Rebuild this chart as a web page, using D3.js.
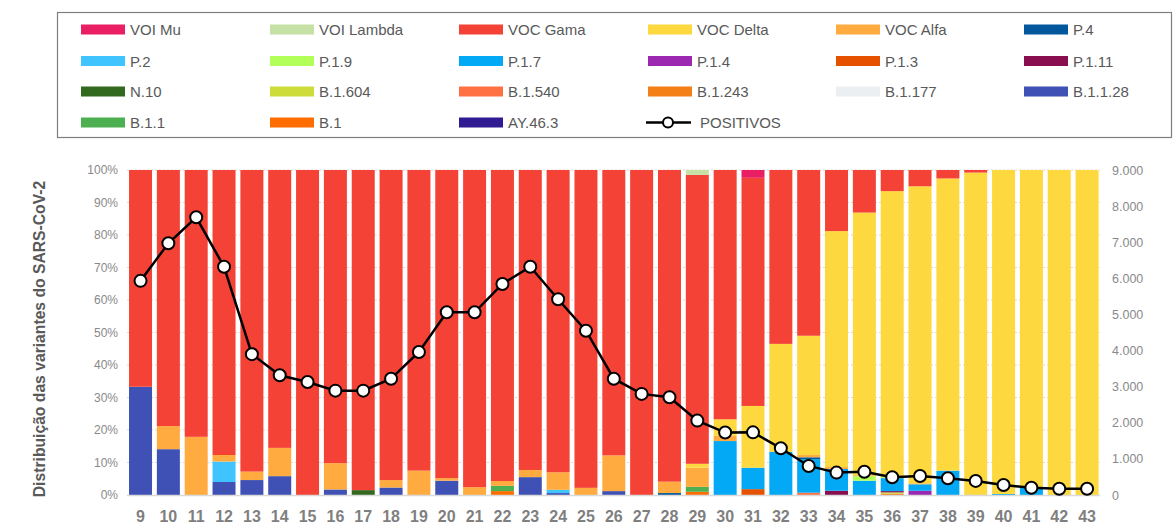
<!DOCTYPE html>
<html>
<head>
<meta charset="utf-8">
<script src="https://cdn.jsdelivr.net/npm/d3@7"></script>
<style>
  html, body { margin: 0; padding: 0; background: #fff; }
  svg { display: block; }
</style>
</head>
<body>
<svg id="chart" width="1175" height="527"></svg>
<script>
// ---------- DATA ----------
const weeks = [9,10,11,12,13,14,15,16,17,18,19,20,21,22,23,24,25,26,27,28,29,30,31,32,33,34,35,36,37,38,39,40,41,42,43];

const voiMu     = [0,0,0,0,0,0,0,0,0,0,0,0,0,0,0,0,0,0,0,0,0,0,2.4,0,0,0,0,0,0,0,0,0,0,0,0];
const voiLambda = [0,0,0,0,0,0,0,0,0,0,0,0,0,0,0,0,0,0,0,0,1.5,0,0,0,0,0,0,0,0,0,0,0,0,0,0];
const vocGama   = [66.7,78.8,82.1,87.7,92.8,85.5,100,90.2,98.5,95.4,92.5,94.8,97.6,95.7,92.3,93.0,97.8,87.8,100,95.9,88.9,76.7,70.2,53.5,51.0,18.8,13.1,6.5,5.0,2.6,0.8,0,0,0,0];
const vocDelta  = [0,0,0,0,0,0,0,0,0,0,0,0,0,0,0,0,0,0,0,0,1.2,5.1,19.0,33.2,36.7,72.6,80.8,87.7,91.4,89.9,99.2,99.7,97.6,100,100];
const vocAlfa   = [0,7.1,17.9,2.0,2.6,8.7,0,8.1,0,2.3,7.5,0.8,2.4,1.5,2.2,5.4,2.2,11.0,0,3.5,5.9,1.6,0,0,0.7,0.6,0.3,0.3,0.3,0,0,0,0,0,0];
const p4        = [0,0,0,0,0,0,0,0,0,0,0,0,0,0,0,0,0,0,0,0.6,0,0,0,0,0.6,0,0,0,0,0,0,0,0,0,0];
const p2        = [0,0,0,6.3,0,0,0,0,0,0,0,0,0,0,0,1.0,0,0,0,0,0,0,0,0,0,0,0,0,0,0,0,0,0,0,0];
const p19       = [0,0,0,0,0,0,0,0,0,0,0,0,0,0,0,0,0,0,0,0,0,0,0,0,0,0,1.4,0.3,0,0,0,0,0,0,0];
const p17       = [0,0,0,0,0,0,0,0,0,0,0,0,0,0,0,0,0,0,0,0,0,16.6,6.6,13.3,10.3,6.7,4.4,4.0,2.0,7.5,0,0.3,2.4,0,0];
const p14       = [0,0,0,0,0,0,0,0,0,0,0,0,0,0,0,0,0,0,0,0,0,0,0,0,0,0,0,0,1.3,0,0,0,0,0,0];
const p13       = [0,0,0,0,0,0,0,0,0,0,0,0,0,0,0,0,0,0,0,0,0,0,1.8,0,0,0,0,0,0,0,0,0,0,0,0];
const p111      = [0,0,0,0,0,0,0,0,0,0,0,0,0,0,0,0,0,0,0,0,0,0,0,0,0,1.3,0,0.4,0,0,0,0,0,0,0];
const n10       = [0,0,0,0,0,0,0,0,1.5,0,0,0,0,0,0,0,0,0,0,0,0,0,0,0,0,0,0,0,0,0,0,0,0,0,0];
const b1604     = [0,0,0,0,0,0,0,0,0,0,0,0,0,0,0,0,0,0,0,0,0,0,0,0,0,0,0,0.4,0,0,0,0,0,0,0];
const b1540     = [0,0,0,0,0,0,0,0,0,0,0,0,0,0,0,0,0,0,0,0,0,0,0,0,0.7,0,0,0,0,0,0,0,0,0,0];
const b1243     = [0,0,0,0,0,0,0,0,0,0,0,0,0,0,0,0,0,0,0,0,0,0,0,0,0,0,0,0.4,0,0,0,0,0,0,0];
const b1177     = [0,0,0,0,0,0,0,0,0,0,0,0,0,0,0,0,0,0,0,0,0,0,0,0,0,0,0,0,0,0,0,0,0,0,0];
const b1128     = [33.3,14.1,0,4.0,4.6,5.8,0,1.7,0,2.3,0,4.4,0,0,5.5,0.6,0,1.2,0,0,0,0,0,0,0,0,0,0,0,0,0,0,0,0,0];
const b11       = [0,0,0,0,0,0,0,0,0,0,0,0,0,1.6,0,0,0,0,0,0,1.5,0,0,0,0,0,0,0,0,0,0,0,0,0,0];
const b1        = [0,0,0,0,0,0,0,0,0,0,0,0,0,1.2,0,0,0,0,0,0,1.0,0,0,0,0,0,0,0,0,0,0,0,0,0,0];
const ay463     = [0,0,0,0,0,0,0,0,0,0,0,0,0,0,0,0,0,0,0,0,0,0,0,0,0,0,0,0,0,0,0,0,0,0,0];

const positivos = [5930,6970,7690,6320,3900,3315,3130,2890,2890,3220,3960,5060,5060,5845,6320,5420,4550,3220,2800,2705,2060,1730,1735,1295,805,620,645,490,525,465,390,275,200,175,175];

const leftTicks  = [0,10,20,30,40,50,60,70,80,90,100];
const rightTicks = [0,1000,2000,3000,4000,5000,6000,7000,8000,9000];

// legend order (top-left to bottom-right)
const seriesNames  = ["VOI Mu","VOI Lambda","VOC Gama","VOC Delta","VOC Alfa","P.4","P.2","P.1.9","P.1.7","P.1.4","P.1.3","P.1.11","N.10","B.1.604","B.1.540","B.1.243","B.1.177","B.1.1.28","B.1.1","B.1","AY.46.3"];
const seriesValues = [voiMu,voiLambda,vocGama,vocDelta,vocAlfa,p4,p2,p19,p17,p14,p13,p111,n10,b1604,b1540,b1243,b1177,b1128,b11,b1,ay463];
const seriesColors = ["#E91E63","#C5E1A5","#F44336","#FDD83F","#FFAB40","#01579B","#40C4FF","#B2FF59","#03A9F4","#9C27B0","#E65100","#880E4F","#33691E","#CDDC39","#FF7043","#F57F17","#ECEFF1","#3F51B5","#4CAF50","#FF6D00","#311B92"];

// ---------- CHART ----------
const svg = d3.select("#chart");
const font = "'Liberation Sans', Arial, sans-serif";

const x = d3.scaleBand().domain(weeks).range([126.6, 1101]).paddingInner(0.174).paddingOuter(0.087);
const y = d3.scaleLinear().domain([0, 100]).range([495, 170]);
const y2 = d3.scaleLinear().domain([0, 9000]).range([495, 170]);

// table for stacking
const table = weeks.map((w, i) => {
  const row = { week: w };
  seriesNames.forEach((n, k) => row[n] = seriesValues[k][i]);
  return row;
});
const stackKeys = seriesNames.slice().reverse(); // bottom: AY.46.3 ... top: VOI Mu
const stacked = d3.stack().keys(stackKeys)(table);
const colorOf = d3.scaleOrdinal().domain(seriesNames).range(seriesColors);

// gridlines
svg.append("g")
  .selectAll("line")
  .data(leftTicks.filter(t => t > 0))
  .join("line")
  .attr("x1", 127).attr("x2", 1100)
  .attr("y1", d => y(d)).attr("y2", d => y(d))
  .attr("stroke", "#d9d9d9").attr("stroke-width", 1)
  .attr("stroke-dasharray", "2,2");

// bars
svg.append("g")
  .selectAll("g")
  .data(stacked)
  .join("g")
  .attr("fill", d => colorOf(d.key))
  .selectAll("rect")
  .data(d => d.filter(s => s[1] - s[0] > 0))
  .join("rect")
  .attr("x", d => x(d.data.week))
  .attr("width", x.bandwidth())
  .attr("y", d => y(d[1]))
  .attr("height", d => y(d[0]) - y(d[1]));

// x axis baseline
svg.append("line")
  .attr("x1", 127).attr("x2", 1100)
  .attr("y1", 495.5).attr("y2", 495.5)
  .attr("stroke", "#d9d9d9").attr("stroke-width", 1.5);

// left axis
const leftAxis = svg.append("g")
  .attr("transform", "translate(118,0)")
  .call(d3.axisLeft(y).tickValues(leftTicks).tickSize(0).tickPadding(0).tickFormat(d => d + "%"));
leftAxis.select(".domain").remove();
leftAxis.selectAll("text")
  .attr("font-family", font).attr("font-size", 12).attr("fill", "#898989");

// right axis
const rightAxis = svg.append("g")
  .attr("transform", "translate(1112,0)")
  .call(d3.axisRight(y2).tickValues(rightTicks).tickSize(0).tickPadding(0)
    .tickFormat(d => d3.format(",")(d).replace(/,/g, ".")));
rightAxis.select(".domain").remove();
rightAxis.selectAll("text")
  .attr("font-family", font).attr("font-size", 12.5).attr("fill", "#898989");

// bottom axis labels
const bottomAxis = svg.append("g")
  .attr("transform", "translate(0,511)")
  .call(d3.axisBottom(x).tickSize(0).tickPadding(0));
bottomAxis.select(".domain").remove();
bottomAxis.selectAll("text")
  .attr("font-family", font).attr("font-size", 16).attr("font-weight", "bold").attr("fill", "#7f7f7f");

// y axis title
svg.append("text")
  .attr("transform", "translate(45,339) rotate(-90)")
  .attr("text-anchor", "middle")
  .attr("font-family", font).attr("font-size", 15.7).attr("font-weight", "bold")
  .attr("fill", "#595959")
  .text("Distribuição das variantes do SARS-CoV-2");

// positivos line
const line = d3.line()
  .x((d, i) => x(weeks[i]) + x.bandwidth() / 2)
  .y(d => y2(d));
svg.append("path")
  .datum(positivos)
  .attr("d", line)
  .attr("fill", "none").attr("stroke", "#000").attr("stroke-width", 2.5);
svg.append("g")
  .selectAll("circle")
  .data(positivos)
  .join("circle")
  .attr("cx", (d, i) => x(weeks[i]) + x.bandwidth() / 2)
  .attr("cy", d => y2(d))
  .attr("r", 6)
  .attr("fill", "#fff").attr("stroke", "#000").attr("stroke-width", 2);

// ---------- LEGEND ----------
const legend = svg.append("g");
legend.append("rect")
  .attr("x", 57.5).attr("y", 12.5).attr("width", 1114).attr("height", 125)
  .attr("fill", "none").attr("stroke", "#7f7f7f").attr("stroke-width", 1.2);

const colX = [81, 270, 459, 648, 836, 1024];
const rowY = [29.5, 61, 91.5, 122.5];
const items = seriesNames.map((n, k) => ({ name: n, color: seriesColors[k], type: "bar" }));
items.push({ name: "POSITIVOS", type: "line" });

const li = legend.selectAll("g.item")
  .data(items)
  .join("g")
  .attr("class", "item")
  .attr("transform", (d, i) => `translate(${colX[i % 6]},${rowY[Math.floor(i / 6)]})`);

li.filter(d => d.type === "bar").append("rect")
  .attr("x", 0).attr("y", -5).attr("width", 44).attr("height", 10)
  .attr("fill", d => d.color);
li.filter(d => d.type === "line").append("line")
  .attr("x1", -2).attr("x2", 43).attr("y1", 0).attr("y2", 0)
  .attr("stroke", "#000").attr("stroke-width", 2.5);
li.filter(d => d.type === "line").append("circle")
  .attr("cx", 20).attr("cy", 0).attr("r", 5)
  .attr("fill", "#fff").attr("stroke", "#000").attr("stroke-width", 2);
li.append("text")
  .attr("x", d => d.type === "line" ? 52 : 49)
  .attr("y", 5.5)
  .attr("font-family", font).attr("font-size", 15).attr("fill", "#595959")
  .text(d => d.name);
</script>
</body>
</html>
